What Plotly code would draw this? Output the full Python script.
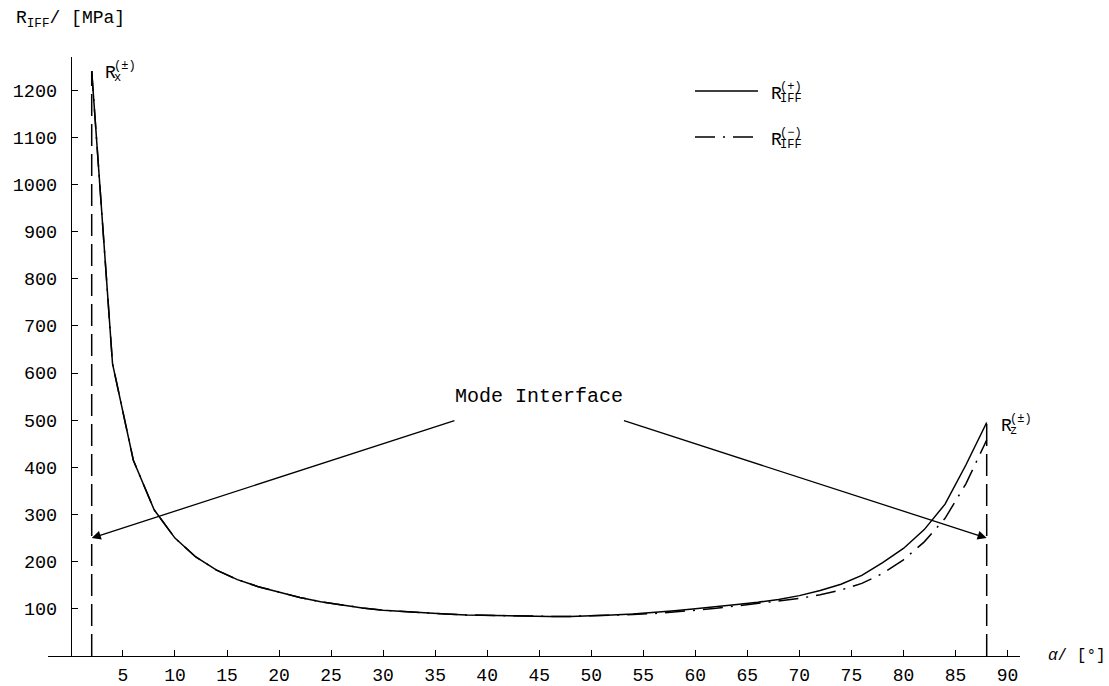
import plotly.graph_objects as go

# Fibre angle alpha in degrees (2-degree sampling between the two limit angles)
alpha = [2, 4, 6, 8, 10, 12, 14, 16, 18, 20, 22, 24, 26, 28, 30, 32, 34, 36, 38, 40, 42, 44,
         46, 48, 50, 52, 54, 56, 58, 60, 62, 64, 66, 68, 70, 72, 74, 76, 78, 80, 82, 84, 86, 88]

# Inter-fibre-fracture resistance for positive loading, MPa
r_iff_plus = [1240, 620, 415, 310, 250, 210, 182, 162, 147, 135, 124, 115, 108, 102, 97, 94, 91, 89, 87, 86, 85, 84,
              84, 84, 85, 87, 89, 92, 96, 100, 104, 109, 114, 120, 128, 139, 152, 171, 198, 228, 268, 322, 405, 495]

# Inter-fibre-fracture resistance for negative loading, MPa
r_iff_minus = [1240, 620, 415, 310, 250, 210, 182, 162, 147, 135, 124, 115, 108, 102, 97, 94, 91, 89, 87, 86, 85, 84,
               84, 84, 85, 86, 88, 90, 93, 97, 101, 106, 111, 116, 122, 130, 140, 154, 175, 204, 242, 292, 365, 458]

x_ticks = [5, 10, 15, 20, 25, 30, 35, 40, 45, 50, 55, 60, 65, 70, 75, 80, 85, 90]
y_ticks = [100, 200, 300, 400, 500, 600, 700, 800, 900, 1000, 1100, 1200]

# Mode interface arrows: (tail alpha, tail R) -> (head alpha, head R)
mode_arrows = [((37, 500), (2, 250)), ((53, 500), (88, 250))]
mode_label_pos = (45, 550)

W, H = 1109, 686
M_L, M_R, M_T, M_B = 48, 89, 57, 29.5
X_RANGE = [-2.2, 91.2]
Y_RANGE = [0, 1270]

SERIF_MONO = "Liberation Mono, Courier New, monospace"
TICK_FONT = "Liberation Mono, monospace"


def px(xp, yp):
    """Pixel position on the page -> paper fractions."""
    return (xp - M_L) / (W - M_L - M_R), (H - M_B - yp) / (H - M_T - M_B)


fig = go.Figure()

fig.add_trace(go.Scatter(x=alpha, y=r_iff_plus, mode="lines",
                         line=dict(color="black", width=1.5), showlegend=False))
fig.add_trace(go.Scatter(x=alpha, y=r_iff_minus, mode="lines",
                         line=dict(color="black", width=1.5, dash="20px,8px,2px,8px"),
                         showlegend=False))

# Vertical dashed limits at the first and last angle
for a, r in [(alpha[0], r_iff_plus[0]), (alpha[-1], r_iff_plus[-1])]:
    fig.add_trace(go.Scatter(x=[a, a], y=[0, r], mode="lines",
                             line=dict(color="black", width=1.5, dash="22px,8px"),
                             showlegend=False))

annotations = []

for (ax_, ay_), (hx, hy) in mode_arrows:
    annotations.append(dict(x=hx, y=hy, ax=ax_, ay=ay_, xref="x", yref="y", axref="x", ayref="y",
                            text="", showarrow=True, arrowhead=2, arrowsize=1.4, arrowwidth=1.3,
                            arrowcolor="black", standoff=0))

annotations.append(dict(x=mode_label_pos[0], y=mode_label_pos[1], xref="x", yref="y",
                        text="Mode Interface", showarrow=False,
                        font=dict(family=SERIF_MONO, size=20, color="black")))


def stacked_r(x, y, xref, yref, sup, sub, xs, ys):
    """'R' with a superscript and subscript stacked on its right."""
    base = dict(x=x, y=y, xref=xref, yref=yref, showarrow=False, xanchor="left", yanchor="middle")
    annotations.append(dict(base, text="R", xshift=xs, yshift=ys,
                            font=dict(family=SERIF_MONO, size=18, color="black")))
    annotations.append(dict(base, text=sup, xshift=xs + 9, yshift=ys + 7,
                            font=dict(family=SERIF_MONO, size=12, color="black")))
    annotations.append(dict(base, text=sub, xshift=xs + 9, yshift=ys - 5,
                            font=dict(family=SERIF_MONO, size=12, color="black")))


# Limit labels at the ends of the curve
stacked_r(alpha[0], r_iff_plus[0], "x", "y", "(±)", "x", 11, -2)
stacked_r(alpha[-1], r_iff_plus[-1], "x", "y", "(±)", "z", 12, -3)

# Hand-drawn legend
shapes = []
for row_y, dash, sign in [(91, "solid", "(+)"), (137, "20px,8px,2px,8px", "(−)")]:
    x0, y0 = px(695, row_y)
    x1, _ = px(758, row_y)
    shapes.append(dict(type="line", xref="paper", yref="paper", x0=x0, x1=x1, y0=y0, y1=y0,
                       line=dict(color="black", width=1.5, dash=dash)))
    lx, ly = px(769, row_y + 3)
    stacked_r(lx, ly, "paper", "paper", sign, "IFF", 0, 0)

# Axis titles
tx, ty = px(14, 19)
annotations.append(dict(x=tx, y=ty, xref="paper", yref="paper", xanchor="left", yanchor="middle",
                        showarrow=False, text="R<sub>IFF</sub>/ [MPa]",
                        font=dict(family=SERIF_MONO, size=18, color="black")))
tx, ty = px(1046, 657)
annotations.append(dict(x=tx, y=ty, xref="paper", yref="paper", xanchor="left", yanchor="middle",
                        showarrow=False, text="<i>α</i>/ [°]",
                        font=dict(family=SERIF_MONO, size=16, color="black")))

y_axis_pos = (0 - X_RANGE[0]) / (X_RANGE[1] - X_RANGE[0])

fig.update_layout(
    width=W, height=H,
    margin=dict(l=M_L, r=M_R, t=M_T, b=M_B, pad=0, autoexpand=False),
    paper_bgcolor="white", plot_bgcolor="white",
    showlegend=False, hovermode=False,
    annotations=annotations, shapes=shapes,
    xaxis=dict(range=X_RANGE, showgrid=False, zeroline=False, showline=True, automargin=False,
               linecolor="black", linewidth=1, ticks="inside", ticklen=6, tickwidth=1,
               tickcolor="black", tickvals=x_ticks, ticklabelstandoff=2,
               tickfont=dict(family=TICK_FONT, size=18, color="black")),
    yaxis=dict(range=Y_RANGE, showgrid=False, zeroline=False, showline=True, automargin=False,
               anchor="free", position=y_axis_pos,
               linecolor="black", linewidth=1, ticks="inside", ticklen=6, tickwidth=1,
               tickcolor="black", tickvals=y_ticks, ticklabelstandoff=10,
               tickfont=dict(family=TICK_FONT, size=18.5, color="black")),
)

fig.write_html("out.html")
